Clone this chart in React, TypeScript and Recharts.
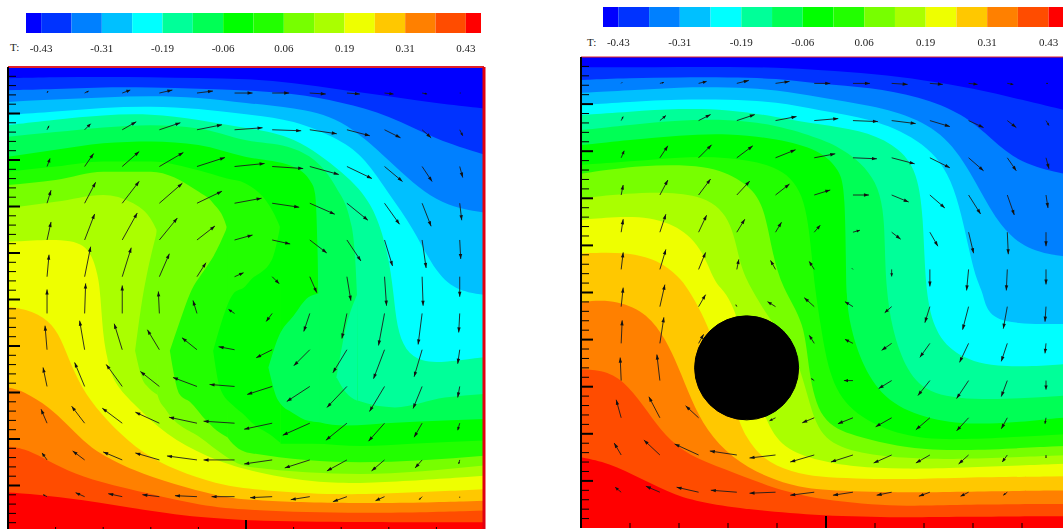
import { Area, Bar, BarChart, ComposedChart, ReferenceDot, ReferenceLine, Scatter, XAxis, YAxis } from "recharts";

// colour bar, coldest to hottest
const PALETTE = ["#0000ff", "#0033ff", "#0080ff", "#00c0ff", "#00ffff", "#00ff99", "#00ff55", "#00ff00", "#22ff00", "#77ff00", "#aaff00", "#eeff00", "#ffc800", "#ff8000", "#ff4c00", "#ff0000"];
const SWATCH_SPANS = [0.5, 1, 1, 1, 1, 1, 1, 1, 1, 1, 1, 1, 1, 1, 1, 0.5];
const T_LABELS = ["-0.43", "-0.31", "-0.19", "-0.06", "0.06", "0.19", "0.31", "0.43"];
const T_TICKS = [0.5, 2.5, 4.5, 6.5, 8.5, 10.5, 12.5, 14.5];

const X_TICKS = [10, 20, 30, 40, 50, 60, 70, 80, 90];
const Y_TICKS = [2, 4, 6, 8, 10, 12, 14, 16, 18, 20, 22, 24, 26, 28, 30, 32, 34, 36, 38, 40, 42, 44, 46, 48, 50, 52, 54, 56, 58, 60, 62, 64, 66, 68, 70, 72, 74, 76, 78, 80, 82, 84, 86, 88, 90, 92, 94, 96, 98];

// isotherms of the plain cavity: [x %, depth % from the top]
const L2 = [[0, 2.4], [10, 2.2], [20, 2.1], [30, 2.2], [40, 2.4], [50, 2.5], [60, 3.4], [70, 4.9], [80, 6.3], [90, 7.8], [100, 8.9]];
const L3 = [[0, 5], [10, 4.8], [20, 4.3], [30, 4.4], [40, 4.7], [50, 5], [60, 5.7], [70, 7.5], [80, 10.3], [90, 15.7], [100, 18.8]];
const L4 = [[0, 7.5], [10, 7], [20, 6.5], [30, 6.2], [40, 6.5], [50, 7.8], [60, 8.7], [70, 10.8], [80, 20], [90, 29.7], [100, 31.3]];
const L5 = [[0, 10.3], [10, 9.6], [20, 8.7], [30, 8.4], [40, 8.9], [50, 10.2], [60, 11.3], [70, 15.7], [75, 19.6], [80, 27.3], [85, 34.3], [90, 44.7], [94.8, 48.3], [100, 49]];
const L6 = [[0, 12.5], [10, 11.3], [20, 10.3], [30, 10], [40, 11.3], [50, 13.2], [60, 14.6], [70.8, 22.9], [76.7, 29.3], [79.9, 40], [81, 48.7], [81.7, 56], [83.4, 61], [86.9, 63.5], [91.8, 63.5], [100, 62.4]];
const L7 = [[0, 15], [10, 14], [20, 13], [30, 12.5], [40, 13.2], [49.8, 15.7], [59.8, 17.5], [69, 26], [72.2, 34.3], [73.3, 48.8], [73.6, 71.8], [81.3, 73.2], [91.8, 71.1], [100, 70.3]];
const L8 = [[0, 19.3], [10, 17.8], [20, 16.4], [30, 16], [40, 16.8], [49.8, 19.3], [59.8, 21.4], [63.8, 25], [64.5, 27.2], [65, 38], [65.2, 48.7], [65.4, 76.4], [70.8, 77.1], [81.3, 76.5], [91.8, 76], [100, 75.7]];
const L9 = [[0, 22.5], [10, 21.4], [20, 20.3], [30, 20.3], [40, 22.2], [46, 24], [49.8, 25], [57.1, 34.3], [57.3, 81], [63.8, 81], [74.3, 81.5], [84.8, 81], [100, 80.3]];
const L10 = [[0, 25.4], [10, 24.3], [20, 22.5], [30, 22.5], [40, 26.8], [43.1, 29.3], [45.9, 34.3], [46.1, 79.6], [50.8, 83], [74, 85], [100, 83.6]];
const L11 = [[0, 30.4], [10, 29], [20, 27.5], [26.3, 29.3], [31.2, 35], [31.4, 70.5], [33.3, 73.9], [40.3, 79.6], [50.8, 86], [74, 87.5], [100, 85.7]];
const L12 = [[0, 37.6], [12.3, 36.8], [17.2, 38.6], [19, 45.1], [19.4, 49], [20, 58], [20.7, 61.8], [22, 68], [27, 73], [33, 79], [41.7, 83.9], [50.8, 87], [63.8, 89.3], [74.3, 89.7], [100, 87.9]];
const L13 = [[0, 51.5], [5.3, 52.4], [9.5, 55.3], [11.6, 59.6], [14, 66], [17.2, 71.8], [22.1, 77.5], [28.4, 83.2], [35.4, 86.8], [43.8, 89.7], [50.8, 90.8], [63.8, 91.8], [74.3, 92], [100, 90.8]];
const L14 = [[0, 68.9], [3.2, 69.6], [8.8, 73.2], [12.3, 76.8], [15.8, 80.4], [19.3, 83.2], [26.3, 86.8], [34.7, 89.7], [43.8, 92.2], [50.8, 93.3], [74.3, 94], [100, 93.3]];
const L15 = [[0, 81.6], [3.2, 82], [7.4, 84], [12.3, 86.8], [19.3, 89.3], [29.8, 91.8], [40.3, 94.3], [50.8, 95.4], [74, 96.1], [100, 95.4]];
const L16 = [[0, 91.5], [5.3, 91.8], [19.3, 93.6], [33.3, 96.1], [47.3, 97.6], [74, 97.9], [100, 97.9]];
const LEFT_ISOTHERMS = [L2, L3, L4, L5, L6, L7, L8, L9, L10, L11, L12, L13, L14, L15, L16];
// these hand over to a pocket below, so they keep their corners
const LEFT_CORNERED = [L7, L8, L9, L10, L11];

// colder pockets the warm tongue wraps round: [x %, upper edge, lower edge]
const P10 = [[26.7, 61, 61], [28.4, 48.8, 67.5], [29.1, 45, 68.5], [31.4, 35, 70.5]];
const P9 = [[34, 61, 61], [36, 55, 70.3], [38.2, 48.8, 72], [41.7, 43, 76.1], [43.1, 40.8, 77.5], [46.1, 34.3, 79.6]];
const P8 = [[43.1, 61, 61], [44.5, 56, 68.9], [47.3, 48.8, 72.8], [49.8, 47.2, 75], [50.8, 46, 76.1], [55.4, 41.5, 79.3], [57.2, 34.3, 80.8]];
const P7 = [[54.7, 64.6, 64.6], [56.8, 58.1, 71.8], [60, 53.5, 74.5], [63.1, 49.5, 76.1], [65.4, 48.7, 76.4]];
const P6 = [[69, 66.7, 66.7], [71, 56, 70], [73.4, 48.8, 71.8]];
const LEFT_POCKETS = [P10, P9, P8, P7, P6];
const LEFT_POCKET_LEVELS = [9, 8, 7, 6, 5];

// isotherms of the cavity with the cylinder
const R2 = [[0, 2.2], [10, 2.2], [20, 2.1], [30, 2.1], [40, 2.2], [48.8, 2.8], [60, 3.6], [70, 4.9], [80, 6.6], [90, 9.1], [100, 11.6]];
const R3 = [[0, 4.9], [10, 4.5], [20, 4.3], [30, 4.3], [40, 4.5], [48.8, 5.8], [59, 6.4], [69, 8.4], [78, 12], [84, 17.6], [89.6, 22.6], [98.4, 24.8], [100, 25]];
const R4 = [[0, 7.6], [10, 7.1], [20, 6.4], [30, 6.4], [40, 6.9], [48.8, 8.6], [59, 10.2], [69, 13], [76, 18.3], [81.4, 28.2], [85.5, 36], [90.9, 41], [98.4, 42.4], [100, 42.4]];
const R5 = [[0, 10.2], [10, 9.5], [20, 9], [30, 9], [40, 9.5], [48.8, 11.4], [59, 13], [69, 17.3], [76, 24.7], [79.4, 42.4], [81, 48], [82, 50], [82.8, 54.2], [86.6, 56.7], [98.4, 56.7], [100, 56.7]];
const R6 = [[0, 12.3], [10, 11.6], [20, 10.9], [30, 11.1], [40, 12.7], [48.8, 14.4], [56.9, 15.5], [63.7, 18.3], [68.5, 23.3], [69.9, 33.9], [70.2, 48.8], [71.9, 57.8], [75.9, 63.1], [84.1, 66.2], [98.4, 65.2], [100, 65.2]];
const R7 = [[0, 15.5], [10, 14.4], [20, 13.4], [30, 13.2], [40, 14.4], [48.8, 17.3], [54.2, 19.8], [61.7, 26.8], [62, 41], [62.3, 49], [63.4, 57.7], [66.5, 67], [71.2, 71.9], [82.8, 73], [98.4, 71.9], [100, 71.9]];
const R8 = [[0, 18.7], [10, 17.6], [20, 16.6], [30, 16.2], [40, 17.3], [48.8, 19.7], [52.8, 24], [53.9, 28.2], [54.1, 48], [54.2, 49.3], [54.6, 56.3], [57.6, 66.2], [62.4, 73.3], [71.2, 77.2], [82.8, 78.3], [98.4, 76.5], [100, 76.5]];
const R9 = [[0, 22.9], [10, 22.2], [20, 21.2], [30, 21.2], [40, 22.9], [45.7, 28.2], [47.1, 42.4], [47.8, 49.5], [48.8, 56.3], [50.8, 69], [55.6, 76.1], [65.8, 80.7], [76, 81.5], [100, 80]];
const R10 = [[0, 24.8], [12.4, 22.9], [26, 22.9], [32.8, 26.1], [37.2, 30.4], [38.9, 41], [41, 49.1], [45.7, 56.3], [46.4, 66.9], [48.8, 77.6], [55.6, 80.5], [65.8, 83], [76, 83.8], [100, 82.5]];
const R11 = [[0, 30], [12.4, 28.6], [24.6, 28.9], [30.7, 33.9], [32.4, 44.5], [34.8, 49.3], [38.8, 56.3], [43.6, 62], [46.4, 72.6], [48.8, 81], [55.6, 84], [65.8, 85.2], [76, 85.5], [100, 84.5]];
const R12 = [[0, 34.6], [11, 33.5], [19.2, 35.3], [24.6, 40.3], [27.3, 48.1], [29, 49.3], [31.4, 53.5], [33, 60], [35.5, 70], [37.6, 76.9], [41, 83.2], [48.8, 85.8], [55.6, 87], [65.8, 87.5], [76, 87.3], [100, 86.3]];
const R13 = [[0, 41.7], [9, 41.3], [15.8, 43.1], [19.9, 46.6], [21.9, 49.3], [24.6, 54.2], [27, 60], [29.5, 68], [32.1, 76.9], [33.5, 80.4], [36.9, 85.4], [43, 88.2], [48.8, 89.2], [55.6, 89.5], [65.8, 89.7], [76, 89.3], [100, 89]];
const R14 = [[0, 52.1], [5.6, 51.4], [12.4, 53.5], [16.5, 58.5], [19.2, 64.1], [21.9, 71.2], [24.6, 77.6], [29.4, 83.9], [35.5, 88.2], [43, 91], [48.8, 92], [65.8, 92.5], [76, 92.3], [100, 92]];
const R15 = [[0, 66.3], [5.6, 66.6], [9.7, 69.8], [13.7, 75.4], [17.1, 80.4], [21.9, 84.6], [29.4, 87.5], [37.6, 91], [48.8, 94.2], [65.8, 95.5], [76, 95], [100, 94.9]];
const R16 = [[0, 85], [5.6, 86.1], [12.4, 89.6], [19.2, 93.1], [26, 94.9], [36.2, 96.3], [48.8, 97.4], [65.8, 97.8], [76, 97.6], [100, 97.5]];
const RIGHT_ISOTHERMS = [R2, R3, R4, R5, R6, R7, R8, R9, R10, R11, R12, R13, R14, R15, R16];

// velocity samples, same grid in both cavities
const GRID_X = [8.2, 16.1, 24, 31.8, 39.7, 47.6, 55.5, 63.4, 71.2, 79.1, 87, 94.9];
const GRID_Y = [5.6, 13.5, 21.4, 29.3, 37.2, 45.1, 53, 60.8, 68.7, 76.6, 84.5, 92.4];

const LEFT_VECTORS = [
  [[1, -2], [4, -2], [8, -3], [13, -3], [16, -2], [18, 0], [17, 0], [16, 1], [13, 1], [9, 1], [5, 1], [1, 0]],
  [[2, -4], [6, -6], [14, -8], [21, -7], [25, -5], [28, -2], [29, 1], [27, 4], [23, 6], [16, 8], [9, 8], [3, 6]],
  [[3, -8], [9, -13], [17, -15], [24, -14], [28, -9], [30, -3], [31, 2], [29, 8], [25, 12], [18, 15], [10, 15], [3, 11]],
  [[4, -13], [11, -21], [17, -22], [23, -20], [25, -12], [27, -5], [27, 4], [25, 11], [21, 17], [15, 21], [9, 23], [2, 17]],
  [[4, -18], [10, -26], [15, -27], [18, -22], [18, -14], [18, -5], [18, 4], [17, 13], [14, 21], [8, 26], [4, 28], [1, 19]],
  [[2, -22], [6, -30], [9, -29], [10, -23], [9, -14], [9, -4], [7, 7], [7, 16], [4, 24], [2, 29], [1, 29], [0, 20]],
  [[0, -24], [1, -30], [0, -28], [-1, -22], [-4, -13], [-6, -4], [-6, 8], [-6, 18], [-5, 25], [-6, 32], [-4, 31], [-1, 19]],
  [[-2, -24], [-5, -29], [-8, -26], [-12, -20], [-15, -12], [-16, -3], [-16, 8], [-16, 16], [-14, 23], [-11, 29], [-8, 27], [-2, 14]],
  [[-4, -19], [-10, -24], [-16, -22], [-19, -15], [-24, -9], [-25, -2], [-25, 8], [-23, 15], [-20, 21], [-15, 25], [-9, 22], [-2, 11]],
  [[-6, -14], [-13, -17], [-20, -15], [-24, -11], [-28, -6], [-31, -2], [-28, 6], [-27, 12], [-21, 17], [-16, 18], [-8, 14], [-2, 7]],
  [[-5, -7], [-12, -9], [-19, -8], [-24, -7], [-30, -4], [-31, 0], [-28, 4], [-25, 8], [-20, 11], [-13, 11], [-7, 8], [-1, 4]],
  [[-4, -2], [-9, -4], [-14, -3], [-17, -2], [-22, -1], [-23, 0], [-22, 1], [-19, 3], [-14, 5], [-9, 4], [-3, 3], [0, 1]],
];
const RIGHT_VECTORS = [
  [[1, -1], [4, -1], [8, -2], [12, -3], [14, -2], [16, 0], [17, 0], [16, 1], [13, 1], [9, 1], [6, 1], [2, 0]],
  [[2, -4], [6, -5], [12, -6], [18, -6], [21, -4], [24, -2], [25, 1], [24, 3], [20, 6], [15, 7], [9, 7], [3, 5]],
  [[3, -7], [8, -12], [13, -13], [16, -12], [20, -8], [21, -4], [24, 1], [23, 6], [20, 10], [15, 13], [9, 13], [3, 11]],
  [[2, -10], [8, -15], [12, -16], [13, -14], [14, -11], [16, -5], [16, 0], [17, 7], [15, 13], [12, 19], [7, 20], [2, 13]],
  [[2, -13], [6, -18], [8, -17], [8, -13], [6, -10], [6, -7], [7, -2], [9, 7], [8, 14], [5, 21], [1, 22], [0, 14]],
  [[2, -17], [6, -20], [7, -17], [2, -10], [-5, -9], [-5, -8], [-1, -1], [0, 7], [0, 17], [-2, 21], [-1, 21], [0, 15]],
  [[2, -19], [5, -22], [7, -12], [-1, -2], [-8, -5], [-10, -9], [-8, -5], [-7, 6], [-5, 16], [-6, 23], [-4, 22], [-1, 15]],
  [[1, -23], [4, -26], [5, -9], [0, 0], [0, 0], [-5, -8], [-8, -4], [-10, 7], [-10, 14], [-9, 19], [-6, 18], [-1, 10]],
  [[-1, -23], [-3, -26], [0, 0], [0, 0], [0, 0], [-3, -2], [-9, 0], [-13, 8], [-12, 15], [-12, 18], [-6, 16], [0, 9]],
  [[-5, -18], [-11, -21], [-13, -12], [0, 0], [-6, 3], [-12, 5], [-15, 6], [-16, 9], [-14, 12], [-12, 13], [-6, 11], [-1, 6]],
  [[-7, -12], [-16, -15], [-24, -11], [-27, -4], [-26, 3], [-24, 7], [-22, 7], [-18, 8], [-14, 8], [-10, 9], [-5, 7], [0, 3]],
  [[-6, -5], [-14, -6], [-22, -5], [-26, -2], [-26, 1], [-24, 3], [-20, 3], [-15, 3], [-11, 4], [-8, 4], [-4, 3], [0, 0]],
];

const CYLINDER = { x: 33.8, y: 66 };

const FONT = '"Liberation Serif", "Times New Roman", serif';
const PAD = 6;

const vectorPoints = (rows: number[][][]) =>
  rows.flatMap((row, j) => row.map(([dx, dy], i) => ({ x: GRID_X[i], y: GRID_Y[j], dx, dy })));

const ArrowShape = (props: any) => {
  const { cx, cy } = props;
  const { dx, dy } = props.payload ?? props;
  const len = Math.hypot(dx, dy);
  if (!len) return null;
  const ux = dx / len;
  const uy = dy / len;
  const hx = cx + dx;
  const hy = cy + dy;
  const h = Math.min(5, len * 0.45);
  const w = Math.min(1.7, len * 0.2);
  const head = `${hx},${hy} ${hx - ux * h - uy * w},${hy - uy * h + ux * w} ${hx - ux * h + uy * w},${hy - uy * h - ux * w}`;
  return (
    <g>
      <line x1={cx} y1={cy} x2={hx} y2={hy} stroke="#1c1c1c" strokeWidth={0.9} />
      <polygon points={head} fill="#111" />
    </g>
  );
};

const YTick = ({ x, y, payload }: any) => {
  const major = payload.value % 10 === 0;
  return <line x1={x} y1={y} x2={x + (major ? 12 : 8)} y2={y} stroke="#000" strokeWidth={major ? 2 : 1} />;
};

const XTick = ({ x, y, payload }: any) => {
  const major = payload.value === 50;
  return <line x1={x} y1={y} x2={x} y2={y - (major ? 12 : 5)} stroke="#000" strokeWidth={major ? 2 : 1} />;
};

const toBand = (pts: number[][]) => pts.map(([x, top, bottom]) => ({ x, band: [top, bottom ?? 100] }));

function Cavity({ left, top, width, height, isotherms, cornered, pockets, pocketLevels, vectors, cylinder, redWall }: any) {
  return (
    <>
      <div style={{ position: "absolute", left, top, filter: "blur(0.5px)" }}>
        <ComposedChart width={width} height={height} margin={{ top: 0, right: 0, bottom: 0, left: 0 }} data={[]}>
          <XAxis dataKey="x" type="number" domain={[0, 100]} hide />
          <YAxis dataKey="y" type="number" domain={[0, 100]} reversed hide />
          <Area data={toBand([[0, 0], [100, 0]])} dataKey="band" type="linear" fill={PALETTE[0]} fillOpacity={1} stroke="none" dot={false} activeDot={false} isAnimationActive={false} />
          {isotherms.map((pts: number[][], k: number) => (
            <Area key={k} data={toBand(pts)} dataKey="band" type={cornered?.includes(pts) ? "monotone" : "basis"} fill={PALETTE[k + 1]} fillOpacity={1} stroke="none" dot={false} activeDot={false} isAnimationActive={false} />
          ))}
          {(pockets ?? []).map((pts: number[][], k: number) => (
            <Area key={`p${k}`} data={toBand(pts)} dataKey="band" type="monotone" fill={PALETTE[pocketLevels[k]]} fillOpacity={1} stroke="none" dot={false} activeDot={false} isAnimationActive={false} />
          ))}
          <Scatter data={vectorPoints(vectors)} shape={<ArrowShape />} isAnimationActive={false} />
          {cylinder && <ReferenceDot x={cylinder.x} y={cylinder.y} r={52} fill="#000" stroke="#000" />}
        </ComposedChart>
      </div>
      {/* axes and walls sit above the filled bands in their own transparent chart */}
      <div style={{ position: "absolute", left: left - PAD, top: top - PAD, filter: "blur(0.3px)" }}>
        <ComposedChart width={width + 2 * PAD} height={height + 2 * PAD} margin={{ top: PAD, right: PAD, bottom: PAD, left: PAD }} data={[{ x: 0, y: 0 }]}>
          <XAxis dataKey="x" type="number" domain={[0, 100]} ticks={X_TICKS} height={1} mirror tick={<XTick />} tickLine={false} tickSize={0} tickMargin={0} axisLine={false} interval={0} />
          <YAxis dataKey="y" type="number" domain={[0, 100]} reversed ticks={Y_TICKS} width={1} mirror tick={<YTick />} tickLine={false} tickSize={0} tickMargin={0} axisLine={{ stroke: "#000", strokeWidth: 2 }} interval={0} />
          <ReferenceLine y={0} stroke="#e0202a" strokeWidth={redWall ? 2 : 1} />
          {redWall && <ReferenceLine x={100} stroke="#e00010" strokeWidth={3} />}
        </ComposedChart>
      </div>
    </>
  );
}

function ColourBar({ left, top, width }: any) {
  const row: Record<string, number | string> = { name: "T" };
  SWATCH_SPANS.forEach((s, i) => (row[`s${i}`] = s));
  return (
    <div style={{ position: "absolute", left: left - 14, top, filter: "blur(0.3px)" }}>
      <BarChart layout="vertical" width={width + 28} height={48} data={[row]} margin={{ top: 0, right: 14, bottom: 0, left: 14 }} barCategoryGap={0}>
        <XAxis type="number" domain={[0, 15]} ticks={T_TICKS} interval={0} height={28} axisLine={false} tickLine={false} tickMargin={5} tick={{ fontSize: 11, fontFamily: FONT, fill: "#222" }} tickFormatter={(_: number, i: number) => T_LABELS[i]} />
        <YAxis type="category" dataKey="name" hide />
        {SWATCH_SPANS.map((_, i) => (
          <Bar key={i} dataKey={`s${i}`} stackId="t" fill={PALETTE[i]} isAnimationActive={false} />
        ))}
      </BarChart>
    </div>
  );
}

const tLabel = (left: number, top: number) => (
  <div style={{ position: "absolute", left, top, fontFamily: FONT, fontSize: 11, color: "#222", lineHeight: "12px" }}>T:</div>
);

export default function App() {
  return (
    <div style={{ position: "fixed", left: 0, top: 0, width: 1063, height: 529, overflow: "hidden", background: "#fff" }}>
      <ColourBar left={26} top={13} width={455} />
      <ColourBar left={603} top={7} width={461} />
      {tLabel(10, 41)}
      {tLabel(587, 36)}
      <Cavity left={8} top={67} width={476} height={465} isotherms={LEFT_ISOTHERMS} cornered={LEFT_CORNERED} pockets={LEFT_POCKETS} pocketLevels={LEFT_POCKET_LEVELS} vectors={LEFT_VECTORS} redWall />
      <Cavity left={581} top={57} width={490} height={471} isotherms={RIGHT_ISOTHERMS} vectors={RIGHT_VECTORS} cylinder={CYLINDER} />
    </div>
  );
}
